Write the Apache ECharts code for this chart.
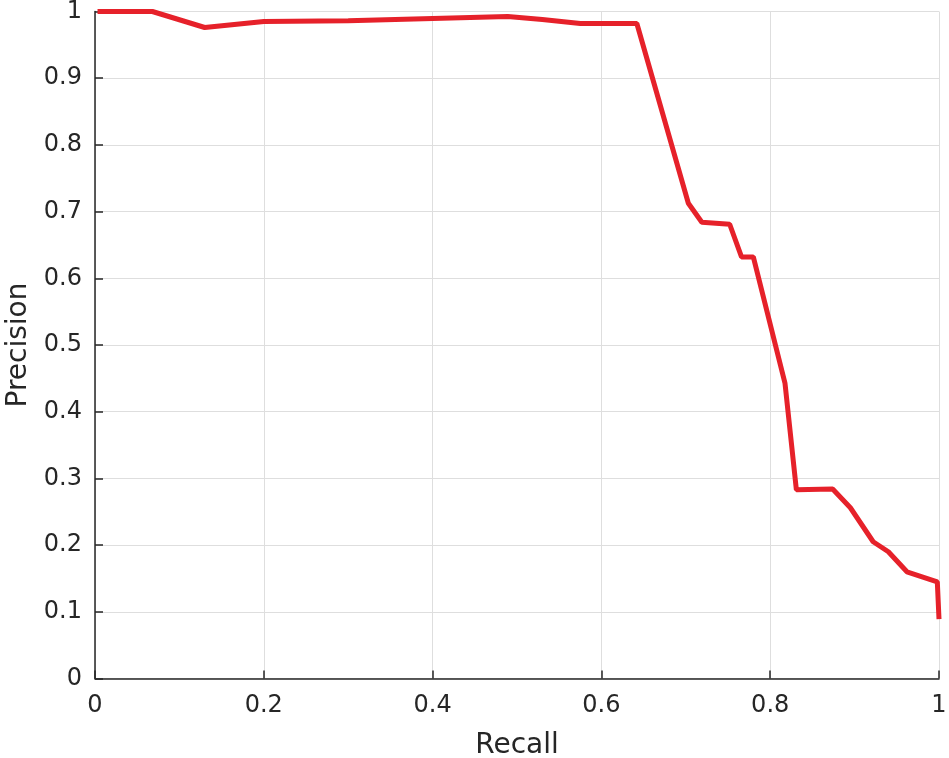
<!DOCTYPE html>
<html>
<head>
<meta charset="utf-8">
<script src="https://cdn.jsdelivr.net/npm/echarts@6/dist/echarts.min.js"></script>
<style>html,body{margin:0;padding:0;background:#fff}#c{width:949px;height:758px}</style>
</head>
<body>
<div id="c"></div>
<script>
const recall = [0.003, 0.068, 0.130, 0.200, 0.300, 0.489, 0.530, 0.575, 0.642, 0.703, 0.719, 0.752, 0.766, 0.780, 0.8175, 0.831, 0.874, 0.895, 0.922, 0.940, 0.962, 0.998, 1.000];
const precision = [1.000, 1.000, 0.976, 0.985, 0.986, 0.9925, 0.988, 0.982, 0.982, 0.7126, 0.684, 0.681, 0.632, 0.632, 0.443, 0.283, 0.284, 0.256, 0.205, 0.190, 0.160, 0.145, 0.089];
const xTicks = [0, 0.2, 0.4, 0.6, 0.8, 1];
const yTicks = [0, 0.1, 0.2, 0.3, 0.4, 0.5, 0.6, 0.7, 0.8, 0.9, 1];

const font = 'DejaVu Sans';
const chart = echarts.init(document.getElementById('c'), null, {renderer: 'canvas'});
chart.setOption({
  animation: false,
  backgroundColor: '#fff',
  grid: {left: 95, right: 10, top: 11.5, bottom: 79.5, outerBoundsMode: 'none', containLabel: false},
  xAxis: {
    type: 'value', min: 0, max: 1, interval: 0.2,
    name: 'Recall', nameLocation: 'middle', nameGap: 53,
    nameTextStyle: {fontFamily: font, fontSize: 28, color: '#262626'},
    axisLine: {show: true, lineStyle: {color: '#262626', width: 1.5}},
    axisTick: {show: true, inside: true, length: 8, lineStyle: {color: '#262626', width: 1.5}},
    axisLabel: {fontFamily: font, fontSize: 24, color: '#262626', margin: 15},
    splitLine: {show: true, lineStyle: {color: '#dedede', width: 1}}
  },
  yAxis: {
    type: 'value', min: 0, max: 1, interval: 0.1,
    name: 'Precision', nameLocation: 'middle', nameGap: 60, nameRotate: 90,
    nameTextStyle: {fontFamily: font, fontSize: 28, color: '#262626'},
    axisLine: {show: true, lineStyle: {color: '#262626', width: 1.5}},
    axisTick: {show: true, inside: true, length: 8, lineStyle: {color: '#262626', width: 1.5}},
    axisLabel: {fontFamily: font, fontSize: 24, color: '#262626', margin: 13},
    splitLine: {show: true, lineStyle: {color: '#dedede', width: 1}}
  },
  series: [{
    type: 'line',
    data: recall.map((r, i) => [r, precision[i]]),
    showSymbol: false,
    lineStyle: {color: '#e6212a', width: 5},
    itemStyle: {color: '#e6212a'}
  }]
});
</script>
</body>
</html>
